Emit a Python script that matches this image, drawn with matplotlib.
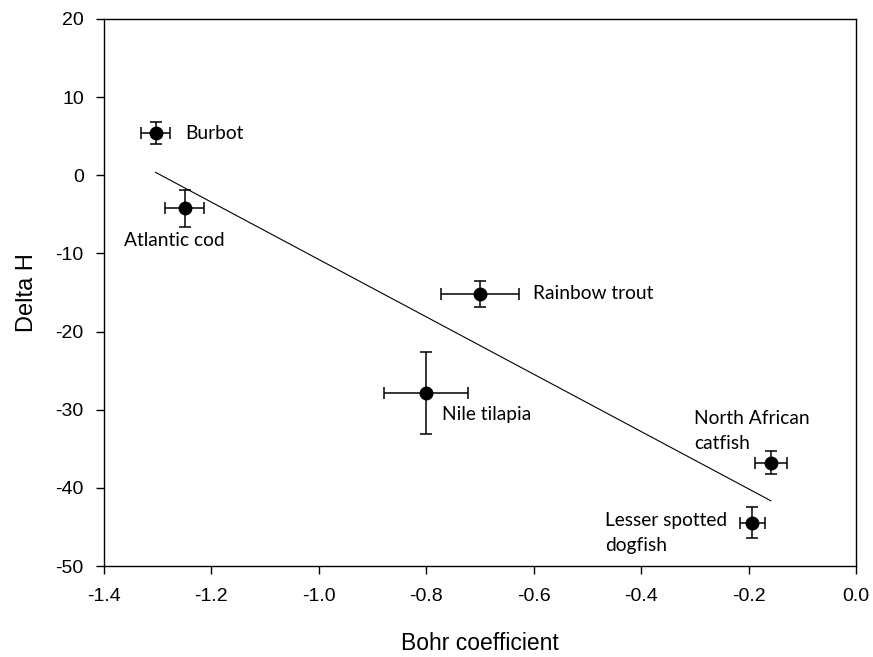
import numpy as np
import matplotlib
matplotlib.use("Agg")
import matplotlib.pyplot as plt

# species values
species = ["Burbot", "Atlantic cod", "Rainbow trout", "Nile tilapia",
           "North African\ncatfish", "Lesser spotted\ndogfish"]
bohr = [-1.304, -1.250, -0.700, -0.800, -0.1585, -0.193]
bohr_err = [0.027, 0.037, 0.072, 0.078, 0.030, 0.023]
delta_h = [5.37, -4.24, -15.25, -27.85, -36.76, -44.44]
delta_h_err = [1.4, 2.4, 1.66, 5.2, 1.43, 1.96]

# where each name sits (data coords, left edge / vertical centre)
label_x = [-1.248, -1.362, -0.602, -0.771, -0.301, -0.467]
label_y = [5.37, -8.39, -15.12, -30.58, -32.73, -45.81]

xticks = [-1.4, -1.2, -1.0, -0.8, -0.6, -0.4, -0.2, 0.0]
xticklabels = ['-1.4', '-1.2', '-1.0', '-0.8', '-0.6', '-0.4', '-0.2', '0.0']
yticks = [-50, -40, -30, -20, -10, 0, 10, 20]

plt.rcParams['font.family'] = ['Liberation Sans', 'DejaVu Sans']
plt.rcParams['axes.unicode_minus'] = False

fig = plt.figure(figsize=(8.73, 6.57), dpi=100)
ax = fig.add_axes([0.1191, 0.1385, 0.8614, 0.8326])

# regression line over the data range
slope, icpt = np.polyfit(bohr, delta_h, 1)
xs = np.array([min(bohr), max(bohr)])
ax.plot(xs, slope * xs + icpt, color='black', lw=0.8)

ax.errorbar(bohr, delta_h, xerr=bohr_err, yerr=delta_h_err, fmt='o',
            color='black', ms=9, elinewidth=1.1, capsize=4.5, capthick=1.1)

for name, lx, ly in zip(species, label_x, label_y):
    ax.text(lx, ly, name, ha='left', va='center', fontsize=13.8,
            family=['Lato', 'DejaVu Sans'], linespacing=1.6)

ax.set_xlim(-1.4, 0.0)
ax.set_ylim(-50, 20)
ax.set_xticks(xticks)
ax.set_xticklabels(xticklabels)
ax.set_yticks(yticks)
ax.tick_params(direction='out', length=6, width=1, labelsize=14)
ax.tick_params(axis='x', pad=10)
ax.tick_params(axis='y', pad=8.5)
for s in ax.spines.values():
    s.set_linewidth(1)

ax.set_xlabel('Bohr coefficient', fontsize=16.5)
ax.set_ylabel('Delta H', fontsize=17)
ax.xaxis.label.set_va('bottom')
ax.xaxis.set_label_coords(0.5, -0.163)
ax.yaxis.set_label_coords(-0.0878, 0.5)

fig.savefig('out.png', dpi=100)
